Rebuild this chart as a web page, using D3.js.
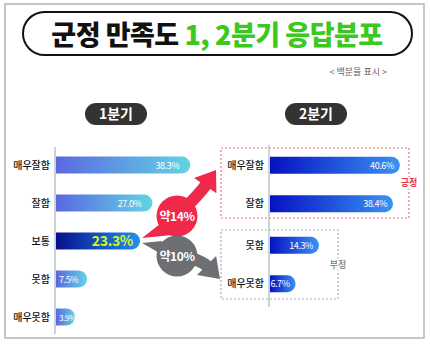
<!DOCTYPE html>
<html>
<head>
<meta charset="utf-8">
<script src="https://cdn.jsdelivr.net/npm/d3@7"></script>
<style>
  html, body { margin: 0; padding: 0; background: #fff; }
  svg { display: block; }
  text { font-family: "Noto Sans CJK KR", "Noto Sans", sans-serif; }
</style>
</head>
<body>
<svg id="chart" width="430" height="345"></svg>
<script>
// 1분기 응답 (%)
const q1Categories = ["매우잘함", "잘함", "보통", "못함", "매우못함"];
const q1Values = [38.3, 27.0, 23.3, 7.5, 3.9];
// 2분기 응답 (%) - 보통 제외
const q2Categories = ["매우잘함", "잘함", "못함", "매우못함"];
const q2Values = [40.6, 38.4, 14.3, 6.7];
const q2Groups = ["긍정", "긍정", "부정", "부정"];
// 변화 폭 주석
const changeLabels = ["약14%", "약10%"];

const svg = d3.select("#chart");
const defs = svg.append("defs");

function gradient(id, from, to) {
  const g = defs.append("linearGradient").attr("id", id)
    .attr("x1", "0%").attr("x2", "100%").attr("y1", "0%").attr("y2", "0%");
  g.append("stop").attr("offset", "0%").attr("stop-color", from);
  g.append("stop").attr("offset", "100%").attr("stop-color", to);
}
gradient("gLeft", "#5a68e0", "#62d4e4");
gradient("gMid", "#08108a", "#2290f0");
gradient("gRight", "#0612c2", "#3a92f2");

// outer frame
svg.append("rect").attr("x", 5).attr("y", 4).attr("width", 419).attr("height", 334)
  .attr("fill", "#fff").attr("stroke", "#b4b4b4").attr("stroke-width", 1.5);

// title pill
svg.append("rect").attr("x", 23).attr("y", 12).attr("width", 389).attr("height", 43)
  .attr("rx", 21.5).attr("fill", "#fff").attr("stroke", "#111").attr("stroke-width", 2);
const title = svg.append("text").attr("x", 217).attr("y", 45)
  .attr("text-anchor", "middle").attr("font-size", 27).attr("font-weight", 900)
  .attr("letter-spacing", -0.5);
title.append("tspan").attr("fill", "#111").text("군정 만족도 ");
title.append("tspan").attr("fill", "#3cc81e").text("1, 2분기 응답분포");

svg.append("text").attr("x", 387).attr("y", 75).attr("text-anchor", "end")
  .attr("font-size", 9).attr("fill", "#666").text("< 백분율 표시 >");

// quarter pills
function pill(cx, label) {
  svg.append("rect").attr("x", cx - 31).attr("y", 103).attr("width", 62).attr("height", 22)
    .attr("rx", 11).attr("fill", "#333");
  svg.append("text").attr("x", cx).attr("y", 119).attr("text-anchor", "middle")
    .attr("font-size", 14).attr("font-weight", 700).attr("fill", "#fff").text(label);
}
pill(116, "1분기");
pill(316, "2분기");

// scales
const xL = d3.scaleLinear().domain([0, 40]).range([62, 196]);
const yL = d3.scaleBand().domain(q1Categories).range([146, 336]);
const xR = d3.scaleLinear().domain([0, 40]).range([275, 398]);
const yR = d3.scaleBand().domain(q2Categories).range([146, 300]);
const barH = 17;
const cyL = c => yL(c) + yL.bandwidth() / 2;
const cyR = (c, i) => yR(c) + yR.bandwidth() / 2 + (q2Groups[i] === "부정" ? 3 : 0);

function barPath(x0, x1, cy) {
  const r = barH / 2, top = cy - r;
  return `M${x0},${top}H${x1 - r}A${r},${r} 0 0 1 ${x1 - r},${top + barH}H${x0}Z`;
}

// group boxes (2분기)
const boxes = [
  { name: "긍정", x0: 221, x1: 409, y0: 148, y1: 218, stroke: "#f07080", color: "#e8364a" },
  { name: "부정", x0: 221, x1: 338, y0: 230, y1: 299, stroke: "#a8b0b4", color: "#777" }
];
boxes.forEach(b => {
  svg.append("rect").attr("x", b.x0).attr("y", b.y0).attr("width", b.x1 - b.x0).attr("height", b.y1 - b.y0)
    .attr("fill", "none").attr("stroke", b.stroke).attr("stroke-width", 1.2).attr("stroke-dasharray", "2,2");
  const cy = (b.y0 + b.y1) / 2 + 3;
  svg.append("rect").attr("x", b.x1 - 9).attr("y", cy - 9).attr("width", 18).attr("height", 12).attr("fill", "#fff");
  svg.append("text").attr("x", b.x1).attr("y", cy).attr("text-anchor", "middle")
    .attr("font-size", 9).attr("font-weight", b.name === "긍정" ? 700 : 500).attr("fill", b.color).text(b.name);
});

// axis lines
svg.append("line").attr("x1", 55).attr("x2", 55).attr("y1", 147).attr("y2", 334)
  .attr("stroke", "#b8c4cc").attr("stroke-width", 1.5);
svg.append("line").attr("x1", 269).attr("x2", 269).attr("y1", 145).attr("y2", 307)
  .attr("stroke", "#b8c4cc").attr("stroke-width", 1.5);

// 1분기 bars
const left = svg.append("g");
q1Categories.forEach((c, i) => {
  const v = q1Values[i], cy = cyL(c), mid = c === "보통";
  left.append("path").attr("d", barPath(56, xL(v), cy)).attr("fill", mid ? "url(#gMid)" : "url(#gLeft)");
  left.append("text").attr("x", 50).attr("y", cy + 3.5).attr("text-anchor", "end")
    .attr("font-size", 10).attr("font-weight", 500).attr("fill", "#111").text(c);
  const small = v < 10;
  left.append("text")
    .attr("x", small ? 59 : xL(v) - (mid ? 7 : 11)).attr("y", cy + (mid ? 5 : 3.5))
    .attr("text-anchor", small ? "start" : "end")
    .attr("font-size", mid ? 14 : (v < 5 ? 8 : 9)).attr("font-weight", mid ? 700 : 400)
    .attr("letter-spacing", mid ? -0.3 : -0.4)
    .attr("fill", mid ? "#d8f21c" : "#fff").text(d3.format(".1f")(v) + "%");
});

// 2분기 bars
const right = svg.append("g");
q2Categories.forEach((c, i) => {
  const v = q2Values[i], cy = cyR(c, i);
  right.append("path").attr("d", barPath(270, xR(v), cy)).attr("fill", "url(#gRight)");
  right.append("text").attr("x", 264).attr("y", cy + 3.5).attr("text-anchor", "end")
    .attr("font-size", 10).attr("font-weight", 500).attr("fill", "#111").text(c);
  right.append("text").attr("x", xR(v) - 6).attr("y", cy + 3.5).attr("text-anchor", "end")
    .attr("font-size", 9).attr("letter-spacing", -0.4).attr("fill", "#fff")
    .text(d3.format(".1f")(v) + "%");
});

// change arrows from 보통 to 긍정 / 부정
function arrow(color, apex, tailA, tailB, center, r, tip, dir, label) {
  const g = svg.append("g").attr("fill", color);
  g.append("path").attr("d", `M${apex[0]},${apex[1]}L${tailA[0]},${tailA[1]}L${tailB[0]},${tailB[1]}Z`);
  g.append("circle").attr("cx", center[0]).attr("cy", center[1]).attr("r", r);
  const len = Math.hypot(dir[0], dir[1]);
  const d = [dir[0] / len, dir[1] / len], n = [-d[1], d[0]];
  const hl = 19, hw = 13.5, sw = 6;
  const base = [tip[0] - hl * d[0], tip[1] - hl * d[1]];
  const ctrl = [base[0] - 10 * d[0], base[1] - 10 * d[1]];
  g.append("path").attr("fill", "none").attr("stroke", color).attr("stroke-width", sw * 2)
    .attr("d", `M${center[0]},${center[1]}Q${ctrl[0]},${ctrl[1]} ${base[0] + d[0]},${base[1] + d[1]}`);
  g.append("path").attr("d",
    `M${tip[0]},${tip[1]}L${base[0] + hw * n[0]},${base[1] + hw * n[1]}L${base[0] - hw * n[0]},${base[1] - hw * n[1]}Z`);
  g.append("text").attr("x", center[0]).attr("y", center[1] + 4.5).attr("text-anchor", "middle")
    .attr("font-size", 12).attr("font-weight", 700).attr("fill", "#fff").attr("letter-spacing", -0.4)
    .text(label);
}
const midEnd = xL(q1Values[2]);
const midY = cyL("보통");
arrow("#f0284a", [midEnd + 2, midY - 3], [160, 224], [172, 235], [177, 216], 20.5,
  [216, 170], [13, -19], changeLabels[0]);
arrow("#6e6f73", [midEnd + 2, midY + 2], [162, 241], [161, 254], [177, 256], 20.5,
  [220, 279], [1, 1], changeLabels[1]);
</script>
</body>
</html>
